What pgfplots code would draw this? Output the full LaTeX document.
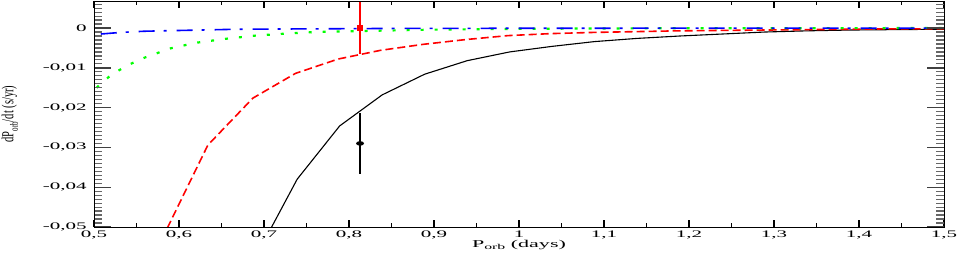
\documentclass[border=0pt]{standalone}
\usepackage{pgfplots}
\pgfplotsset{compat=1.18}
\usepackage{fontspec}
\setmainfont{Liberation Serif}

\begin{document}
\begin{tikzpicture}
\begin{axis}[
  width=850pt, height=226pt, scale only axis,
  xmin=0.5, xmax=1.5, ymin=-0.05, ymax=0.0068,
  xtick={0.5,0.6,...,1.5},
  minor xtick={0.55,0.65,...,1.45},
  ytick={-0.05,-0.04,...,0},
  tick align=inside,
  major tick length=7pt, minor tick length=4pt,
  tick style={black, line width=1.2pt},
  axis line style={line width=0.8pt},
  scaled x ticks=false, scaled y ticks=false,
  /pgf/number format/assume math mode=true,
  /pgf/number format/use comma,
  /pgf/number format/fixed,
  /pgf/number format/precision=2,
  tick label style={font=\fontsize{10}{11}\selectfont, xscale=2.1},
  xlabel={P\raisebox{-0.6ex}{\fontsize{7.5}{8}\selectfont orb} (days)},
  xlabel style={font=\fontsize{10.5}{11}\selectfont, at={(axis description cs:0.5,-0.0885)}, anchor=base, xscale=2.1},
  ylabel={dP\raisebox{-0.6ex}{\fontsize{7}{8}\selectfont orb}/dt (s/yr)},
  ylabel style={font=\fontsize{10.5}{11}\selectfont, at={(axis description cs:-0.099,0.5)}, anchor=center, yscale=1.6},
]
% black solid
\addplot[black, line width=1.1pt] coordinates {
  (0.689,-0.0580) (0.739,-0.0380) (0.789,-0.0246) (0.839,-0.0168)
  (0.889,-0.0116) (0.939,-0.0082) (0.989,-0.0060) (1.039,-0.0046)
  (1.089,-0.0034) (1.139,-0.0026) (1.189,-0.0020) (1.239,-0.0015)
  (1.289,-0.0010) (1.339,-0.0007) (1.389,-0.0005) (1.439,-0.0004)
  (1.500,-0.0003)
};
% red dashed
\addplot[red, line width=1.6pt, dash pattern=on 8pt off 4pt] coordinates {
  (0.580,-0.0530) (0.634,-0.0294) (0.687,-0.0176) (0.737,-0.0114)
  (0.787,-0.0078) (0.837,-0.0056) (0.887,-0.0041) (0.937,-0.0029)
  (0.987,-0.0019) (1.037,-0.0014) (1.087,-0.0011) (1.137,-0.0009)
  (1.187,-0.0007) (1.237,-0.0006) (1.287,-0.0005) (1.337,-0.0004)
  (1.387,-0.0003) (1.437,-0.0002) (1.500,-0.0002)
};
% green dotted
\addplot[green, line width=2.2pt, dash pattern=on 3pt off 11pt] coordinates {
  (0.503,-0.0150) (0.520,-0.0118) (0.540,-0.0093) (0.560,-0.0074)
  (0.590,-0.0051) (0.620,-0.0037) (0.655,-0.0027) (0.690,-0.0019)
  (0.725,-0.0014) (0.760,-0.0010) (0.800,-0.0008) (0.850,-0.0006)
  (0.900,-0.0004) (0.950,-0.0003) (1.000,-0.0002) (1.100,-0.0001)
  (1.200,-0.00005) (1.500,0)
};
% blue dash-dot
\addplot[blue, line width=1.6pt, dash pattern=on 16pt off 9pt on 3pt off 10pt] coordinates {
  (0.508,-0.0015) (0.531,-0.0011) (0.559,-0.0008) (0.602,-0.0006)
  (0.668,-0.0003) (0.755,-0.0002) (0.850,-0.0001) (1.000,-0.00005)
  (1.500,0)
};
% observed points
\addplot[red, only marks, mark=square*, mark size=2.5pt,
  error bars/.cd, y dir=both, y explicit, error mark=none,
  error bar style={red, line width=2.4pt}]
  coordinates {(0.813,0) +- (0,0.0065)};
\addplot[black, only marks, mark=*, mark size=2.2pt, mark options={xscale=1.7, yscale=0.9},
  error bars/.cd, y dir=both, y explicit, error mark=none,
  error bar style={black, line width=2.4pt}]
  coordinates {(0.813,-0.029) +- (0,0.0076)};
\end{axis}
% y ticks: longer than x ticks, drawn by an overlay axis
\begin{axis}[
  width=850pt, height=226pt, scale only axis,
  xmin=0.5, xmax=1.5, ymin=-0.05, ymax=0.0068,
  xtick=\empty,
  ytick={-0.05,-0.04,-0.03,-0.02,-0.01,0},
  minor ytick={-0.049,-0.048,-0.047,-0.046,-0.045,-0.044,-0.043,-0.042,-0.041,
    -0.039,-0.038,-0.037,-0.036,-0.035,-0.034,-0.033,-0.032,-0.031,
    -0.029,-0.028,-0.027,-0.026,-0.025,-0.024,-0.023,-0.022,-0.021,
    -0.019,-0.018,-0.017,-0.016,-0.015,-0.014,-0.013,-0.012,-0.011,
    -0.009,-0.008,-0.007,-0.006,-0.005,-0.004,-0.003,-0.002,-0.001,
    0.001,0.002,0.003,0.004,0.005,0.006},
  yticklabels={},
  scaled y ticks=false,
  tick align=inside,
  major tick length=17pt, minor tick length=8pt,
  major tick style={black!75, line width=1.4pt},
  minor tick style={black!60, line width=1.2pt},
  axis line style={line width=0.8pt},
]
\end{axis}
\pgfresetboundingbox
\path (current axis.south west) ++(-94pt,-25pt) rectangle ++(961pt,252pt);
\end{tikzpicture}
\end{document}
